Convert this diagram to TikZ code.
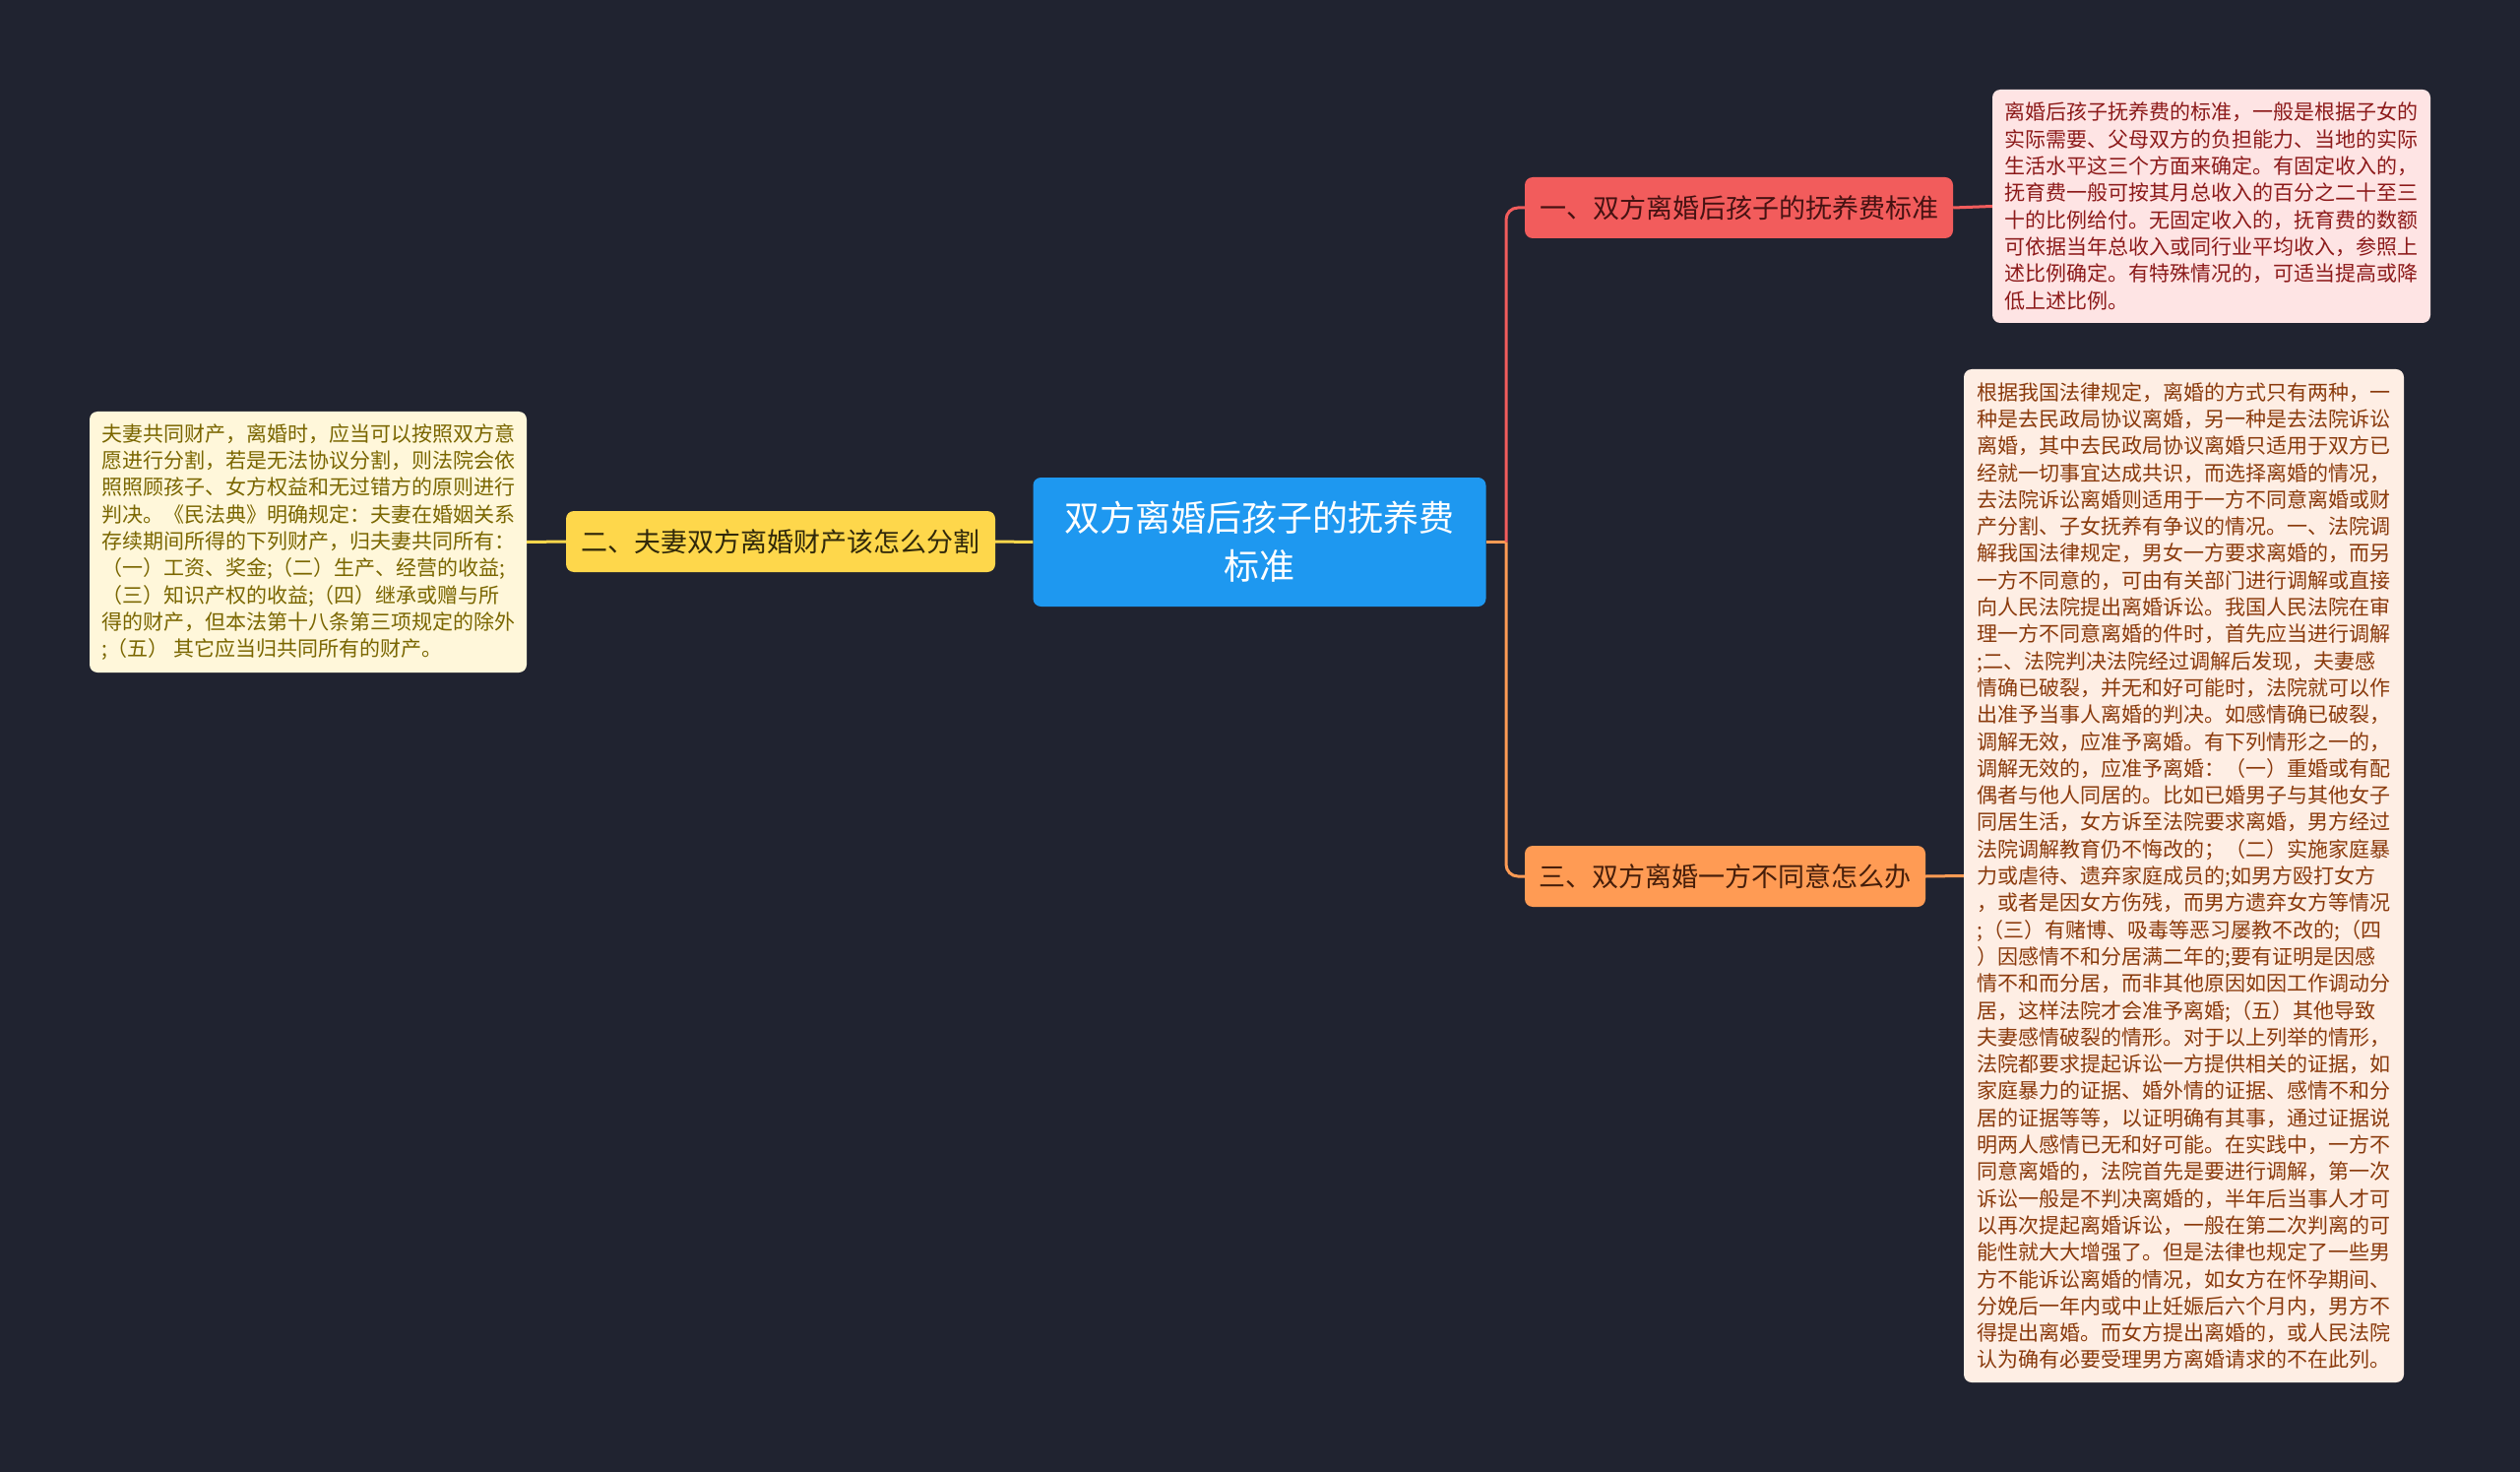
\documentclass[tikz,border=0pt]{standalone}
\usepackage{fontspec}
\setmainfont{Noto Sans CJK SC}
\usetikzlibrary{calc}

\definecolor{bgnavy}{RGB}{32,35,48}
\definecolor{ctrblue}{RGB}{30,152,240}
\definecolor{redbr}{RGB}{242,92,92}
\definecolor{yelbr}{RGB}{254,215,75}
\definecolor{orabr}{RGB}{255,155,84}
\definecolor{redtx}{RGB}{70,18,18}
\definecolor{yeltx}{RGB}{48,40,10}
\definecolor{oratx}{RGB}{70,30,10}
\definecolor{pinkbg}{RGB}{254,228,228}
\definecolor{pinktx}{RGB}{140,26,26}
\definecolor{peachbg}{RGB}{254,238,228}
\definecolor{peachtx}{RGB}{138,58,12}
\definecolor{creambg}{RGB}{255,247,218}
\definecolor{creamtx}{RGB}{122,102,0}

\begin{document}
\begin{tikzpicture}[x=1pt,y=-1pt,
  topic/.style={rounded corners=8pt, fill=ctrblue, text=white, align=center,
    font=\fontsize{36}{49}\selectfont, minimum width=460pt, minimum height=131pt, inner sep=0pt},
  branch/.style={rounded corners=8pt, minimum height=62pt, inner sep=0pt,
    font=\fontsize{27}{32}\selectfont},
  leaf/.style={rounded corners=8pt, align=left, inner sep=0pt,
    font=\fontsize{21}{27.3}\selectfont},
  link/.style={line width=3pt}]

% Background
\fill[bgnavy] (0,0) rectangle (2560,1495);
\useasboundingbox (0,0) rectangle (2560,1495);

% Topic
\node[topic] (ctr) at (1279.5,550.5) {双方离婚后孩子的抚养费\\标准};

% Branches
\node[branch, fill=redbr, text=redtx, minimum width=435pt] (b1) at (1766.5,211) {一、双方离婚后孩子的抚养费标准};
\node[branch, fill=yelbr, text=yeltx, minimum width=436pt] (b2) at (793,550) {二、夫妻双方离婚财产该怎么分割};
\node[branch, fill=orabr, text=oratx, minimum width=407pt] (b3) at (1752.5,890) {三、双方离婚一方不同意怎么办};

% Leaves
\node[leaf, fill=pinkbg, text=pinktx, minimum width=445pt, minimum height=237pt] (l1) at (2246.5,209.5) {%
离婚后孩子抚养费的标准，一般是根据子女的\\
实际需要、父母双方的负担能力、当地的实际\\
生活水平这三个方面来确定。有固定收入的，\\
抚育费一般可按其月总收入的百分之二十至三\\
十的比例给付。无固定收入的，抚育费的数额\\
可依据当年总收入或同行业平均收入，参照上\\
述比例确定。有特殊情况的，可适当提高或降\\
低上述比例。};

\node[leaf, fill=creambg, text=creamtx, minimum width=444pt, minimum height=265pt] (l2) at (313,550.5) {%
夫妻共同财产，离婚时，应当可以按照双方意\\
愿进行分割，若是无法协议分割，则法院会依\\
照照顾孩子、女方权益和无过错方的原则进行\\
判决。《民法典》明确规定：夫妻在婚姻关系\\
存续期间所得的下列财产，归夫妻共同所有：\\
（一）工资、奖金;（二）生产、经营的收益;\\
（三）知识产权的收益;（四）继承或赠与所\\
得的财产，但本法第十八条第三项规定的除外\\
;（五） 其它应当归共同所有的财产。};

\node[leaf, fill=peachbg, text=peachtx, minimum width=447pt, minimum height=1029pt] (l3) at (2218.5,889.5) {%
根据我国法律规定，离婚的方式只有两种，一\\
种是去民政局协议离婚，另一种是去法院诉讼\\
离婚，其中去民政局协议离婚只适用于双方已\\
经就一切事宜达成共识，而选择离婚的情况，\\
去法院诉讼离婚则适用于一方不同意离婚或财\\
产分割、子女抚养有争议的情况。一、法院调\\
解我国法律规定，男女一方要求离婚的，而另\\
一方不同意的，可由有关部门进行调解或直接\\
向人民法院提出离婚诉讼。我国人民法院在审\\
理一方不同意离婚的件时，首先应当进行调解\\
;二、法院判决法院经过调解后发现，夫妻感\\
情确已破裂，并无和好可能时，法院就可以作\\
出准予当事人离婚的判决。如感情确已破裂，\\
调解无效，应准予离婚。有下列情形之一的，\\
调解无效的，应准予离婚：（一）重婚或有配\\
偶者与他人同居的。比如已婚男子与其他女子\\
同居生活，女方诉至法院要求离婚，男方经过\\
法院调解教育仍不悔改的；（二）实施家庭暴\\
力或虐待、遗弃家庭成员的;如男方殴打女方\\
，或者是因女方伤残，而男方遗弃女方等情况\\
;（三）有赌博、吸毒等恶习屡教不改的;（四\\
）因感情不和分居满二年的;要有证明是因感\\
情不和而分居，而非其他原因如因工作调动分\\
居，这样法院才会准予离婚;（五）其他导致\\
夫妻感情破裂的情形。对于以上列举的情形，\\
法院都要求提起诉讼一方提供相关的证据，如\\
家庭暴力的证据、婚外情的证据、感情不和分\\
居的证据等等，以证明确有其事，通过证据说\\
明两人感情已无和好可能。在实践中，一方不\\
同意离婚的，法院首先是要进行调解，第一次\\
诉讼一般是不判决离婚的，半年后当事人才可\\
以再次提起离婚诉讼，一般在第二次判离的可\\
能性就大大增强了。但是法律也规定了一些男\\
方不能诉讼离婚的情况，如女方在怀孕期间、\\
分娩后一年内或中止妊娠后六个月内，男方不\\
得提出离婚。而女方提出离婚的，或人民法院\\
认为确有必要受理男方离婚请求的不在此列。};

% Connectors
\coordinate (fork) at (1530,550.5);
\draw[link, orabr] (ctr.east) -- (fork);
\draw[link, redbr, rounded corners=12pt] (fork) |- (b1.west);
\draw[link, orabr, rounded corners=12pt] (fork) |- (b3.west);
\draw[link, yelbr] (ctr.west) -- (b2.east);
\draw[link, redbr] (b1.east) -- (l1.west);
\draw[link, yelbr] (b2.west) -- (l2.east);
\draw[link, orabr] (b3.east) -- (l3.west);

\end{tikzpicture}
\end{document}
